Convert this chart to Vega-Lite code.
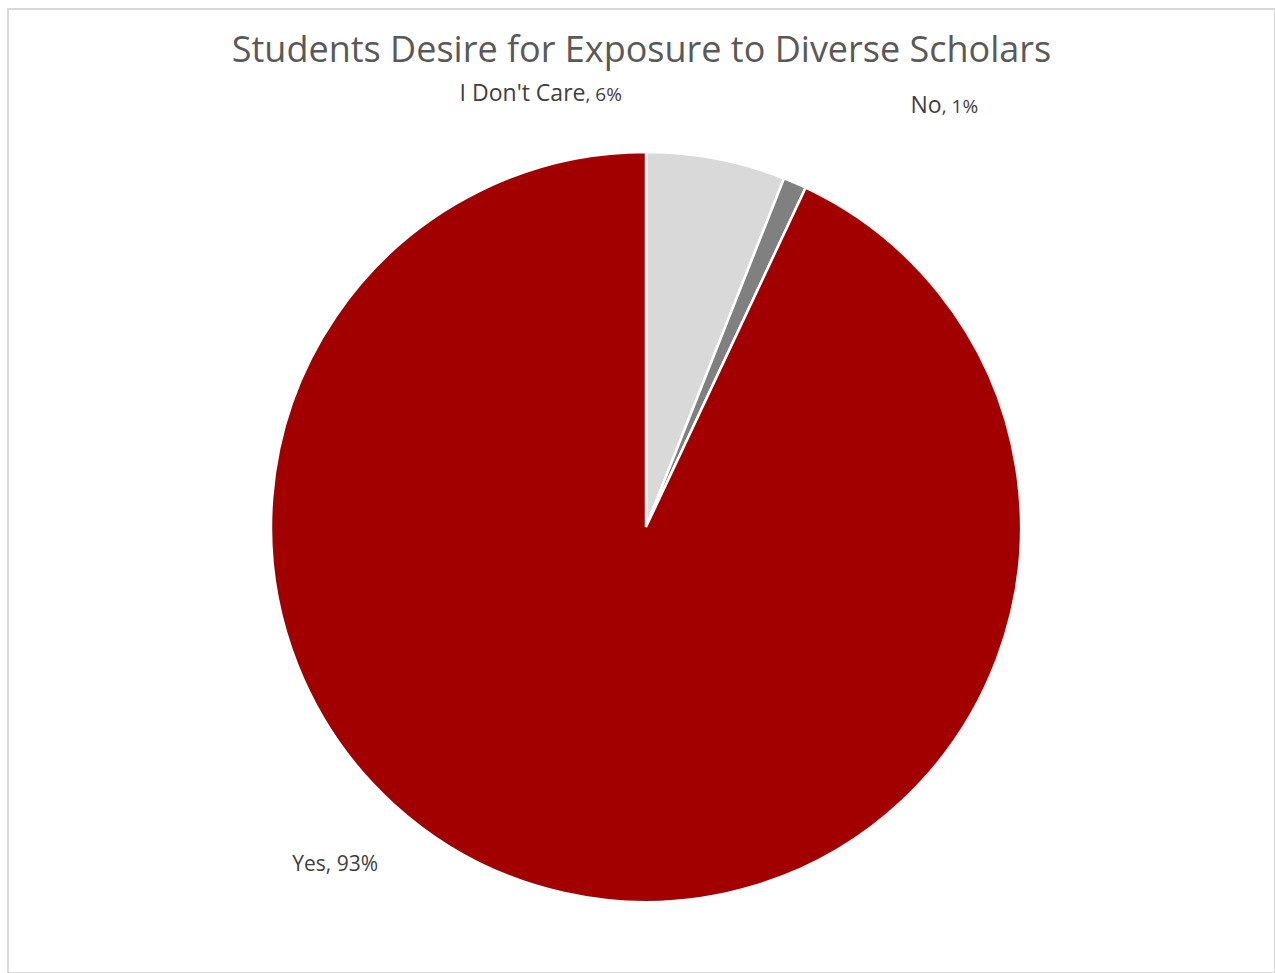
{
  "$schema": "https://vega.github.io/schema/vega-lite/v6.json",
  "width": 1267,
  "height": 964,
  "autosize": {"type": "none"},
  "padding": {"left": 8, "top": 9, "right": 0, "bottom": 0},
  "background": "white",
  "view": {"stroke": "#d9d9d9", "strokeWidth": 2},
  "config": {"view": {"stroke": "#d9d9d9", "strokeWidth": 2}},
  "title": {
    "text": "Students Desire for Exposure to Diverse Scholars",
    "font": "Open Sans",
    "fontSize": 36,
    "fontWeight": "normal",
    "color": "#595959",
    "anchor": "middle",
    "offset": -61
  },
  "data": {
    "values": [
      {"category": "I Don't Care", "share": 6, "value": ", 6%", "label": "I Don't Care, 6%", "rank": 1},
      {"category": "No", "share": 1, "value": ", 1%", "label": "No, 1%", "rank": 2},
      {"category": "Yes", "share": 93, "value": ", 93%", "label": "Yes, 93%", "rank": 3}
    ]
  },
  "encoding": {
    "theta": {"field": "share", "type": "quantitative", "stack": true},
    "order": {"field": "rank", "type": "quantitative"}
  },
  "layer": [
    {
      "mark": {"type": "arc", "radius": 375, "stroke": "white", "strokeWidth": 2.5, "xOffset": 4.5, "yOffset": 36},
      "encoding": {
        "color": {
          "field": "category",
          "type": "nominal",
          "scale": {"domain": ["I Don't Care", "No", "Yes"], "range": ["#d9d9d9", "#808080", "#a20000"]},
          "legend": null
        }
      }
    },
    {
      "mark": {"type": "text", "radius": 440, "align": "right", "baseline": "alphabetic", "dx": -143, "dy": 6, "xOffset": 4.5, "yOffset": 36, "font": "Open Sans", "fontSize": 23, "color": "#404040"},
      "encoding": {
        "text": {"condition": {"test": "datum.category === \"I Don't Care\"", "field": "category"}, "value": ""}
      }
    },
    {
      "mark": {"type": "text", "radius": 440, "align": "left", "baseline": "alphabetic", "dx": -143, "dy": 6, "xOffset": 4.5, "yOffset": 36, "font": "Open Sans", "fontSize": 19, "color": "#404040"},
      "encoding": {
        "text": {"condition": {"test": "datum.category === \"I Don't Care\"", "field": "value"}, "value": ""}
      }
    },
    {
      "mark": {"type": "text", "radius": 470, "align": "right", "baseline": "alphabetic", "dx": 109, "dy": 17, "xOffset": 4.5, "yOffset": 36, "font": "Open Sans", "fontSize": 23, "color": "#404040"},
      "encoding": {
        "text": {"condition": {"test": "datum.category === 'No'", "field": "category"}, "value": ""}
      }
    },
    {
      "mark": {"type": "text", "radius": 470, "align": "left", "baseline": "alphabetic", "dx": 109, "dy": 17, "xOffset": 4.5, "yOffset": 36, "font": "Open Sans", "fontSize": 19, "color": "#404040"},
      "encoding": {
        "text": {"condition": {"test": "datum.category === 'No'", "field": "value"}, "value": ""}
      }
    },
    {
      "mark": {"type": "text", "radius": 380, "align": "right", "baseline": "alphabetic", "dx": -185, "dy": -27, "xOffset": 4.5, "yOffset": 36, "font": "Open Sans", "fontSize": 21, "color": "#404040"},
      "encoding": {
        "text": {"condition": {"test": "datum.category === 'Yes'", "field": "label"}, "value": ""}
      }
    }
  ]
}
